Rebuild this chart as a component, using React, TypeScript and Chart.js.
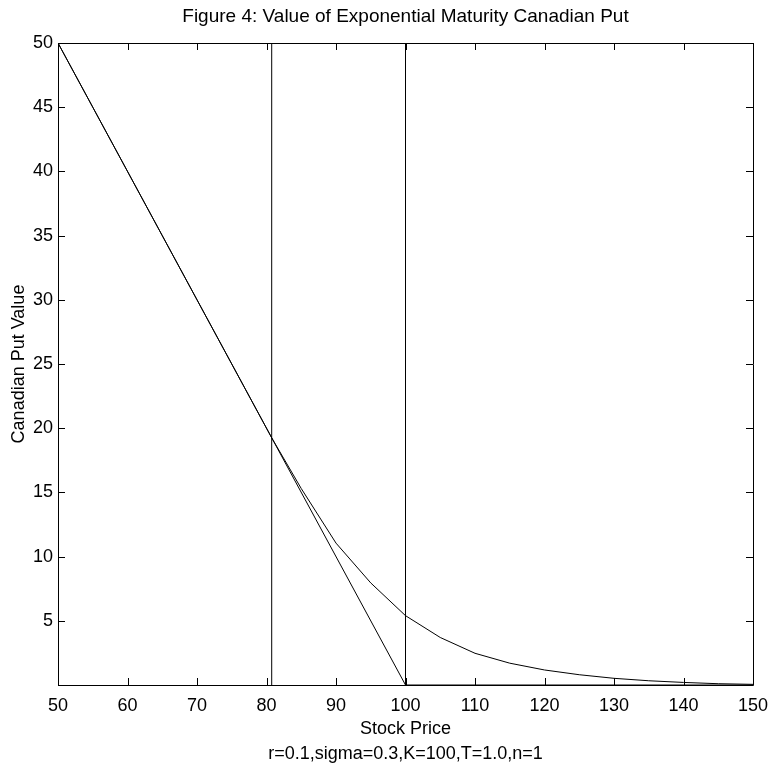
import React, { useEffect, useRef } from "react";
import { Chart, registerables } from "chart.js";

Chart.register(...registerables);

const titleText = "Figure 4: Value of Exponential Maturity Canadian Put";
const xLabel = "Stock Price";
const yLabel = "Canadian Put Value";
const subText = "r=0.1,sigma=0.3,K=100,T=1.0,n=1";

// Canadian put value curve
const stockPrices = [50, 55, 60, 65, 70, 75, 80.75, 85, 90, 95, 100, 105, 110, 115, 120, 125, 130, 135, 140, 145, 150];
const putValues = [50, 45, 40, 35, 30, 25, 19.25, 15.3, 11.05, 7.95, 5.4, 3.7, 2.47, 1.7, 1.17, 0.8, 0.52, 0.33, 0.2, 0.1, 0.05];

// Payoff max(K - S, 0)
const payoffPrices = [50, 100, 150];
const payoffValues = [50, 0, 0];

// Vertical reference lines (exercise boundary and strike)
const boundaryX = 80.75;
const strikeX = 100;
const vLineY = [0, 50];

const FONT = "'Liberation Sans', Arial, Helvetica, sans-serif";

const framePlugin = {
  id: "frameTicks",
  afterDatasetsDraw(chart: any) {
    const { ctx, chartArea, scales } = chart;
    const { left, right, top, bottom } = chartArea;
    const tl = 7;
    ctx.save();
    ctx.strokeStyle = "#000";
    ctx.lineWidth = 1;
    ctx.beginPath();
    ctx.rect(Math.round(left) + 0.5, Math.round(top) + 0.5, Math.round(right - left), Math.round(bottom - top));
    ctx.stroke();
    ctx.beginPath();
    for (const t of scales.x.ticks) {
      const px = Math.round(scales.x.getPixelForValue(t.value)) + 0.5;
      ctx.moveTo(px, bottom);
      ctx.lineTo(px, bottom - tl);
      ctx.moveTo(px, top);
      ctx.lineTo(px, top + tl);
    }
    for (const t of scales.y.ticks) {
      const py = Math.round(scales.y.getPixelForValue(t.value)) + 0.5;
      ctx.moveTo(left, py);
      ctx.lineTo(left + tl, py);
      ctx.moveTo(right, py);
      ctx.lineTo(right - tl, py);
    }
    ctx.stroke();
    ctx.restore();
  },
};

export default function App() {
  const ref = useRef<HTMLCanvasElement | null>(null);
  useEffect(() => {
    document.body.style.margin = "0";
    const canvas = ref.current!;
    const line = (xs: number[], ys: number[]) => xs.map((x, i) => ({ x, y: ys[i] }));
    const common = {
      showLine: true,
      borderColor: "#000",
      backgroundColor: "#000",
      borderWidth: 1,
      pointRadius: 0,
      fill: false,
      tension: 0,
    };
    const chart = new Chart(canvas, {
      type: "scatter",
      data: {
        datasets: [
          { ...common, data: line(stockPrices, putValues) },
          { ...common, data: line(payoffPrices, payoffValues) },
          { ...common, data: line([boundaryX, boundaryX], vLineY) },
          { ...common, data: line([strikeX, strikeX], vLineY) },
        ],
      },
      options: {
        animation: false,
        responsive: false,
        layout: { padding: { left: 0, right: 18, top: 0, bottom: 0 } },
        plugins: {
          legend: { display: false },
          tooltip: { enabled: false },
          title: {
            display: true,
            fullSize: false,
            text: titleText,
            color: "#000",
            font: { family: FONT, size: 19, weight: "normal" },
            padding: { top: 5.6, bottom: 14.6 },
          },
          subtitle: {
            display: true,
            fullSize: false,
            position: "bottom",
            text: subText,
            color: "#000",
            font: { family: FONT, size: 18, weight: "normal" },
            padding: { top: 0, bottom: 4.2 },
          },
        },
        scales: {
          x: {
            type: "linear",
            min: 50,
            max: 150,
            grid: { display: false, drawTicks: false },
            border: { display: false },
            ticks: {
              stepSize: 10,
              color: "#000",
              padding: 10.5,
              maxRotation: 0,
              font: { family: FONT, size: 18 },
            },
            title: {
              display: true,
              text: xLabel,
              color: "#000",
              font: { family: FONT, size: 18 },
              padding: { top: 0, bottom: 3.4 },
            },
            afterFit(scale: any) {
              scale.height = 58.2;
              scale.paddingLeft = 0;
              scale.paddingRight = 0;
            },
          },
          y: {
            type: "linear",
            min: 0,
            max: 50,
            grid: { display: false, drawTicks: false },
            border: { display: false },
            ticks: {
              stepSize: 5,
              color: "#000",
              padding: 5,
              font: { family: FONT, size: 18 },
              callback: (v: any) => (v === 0 ? "" : String(v)),
            },
            title: {
              display: true,
              text: yLabel,
              color: "#000",
              font: { family: FONT, size: 18 },
              padding: { top: 8, bottom: 0 },
            },
            afterFit(scale: any) {
              scale.width = 58;
            },
          },
        },
      },
      plugins: [framePlugin],
    });
    return () => chart.destroy();
  }, []);
  return (
    <div style={{ width: 771, height: 769 }}>
      <canvas ref={ref} width={771} height={769} style={{ display: "block", width: 771, height: 769 }} />
    </div>
  );
}
